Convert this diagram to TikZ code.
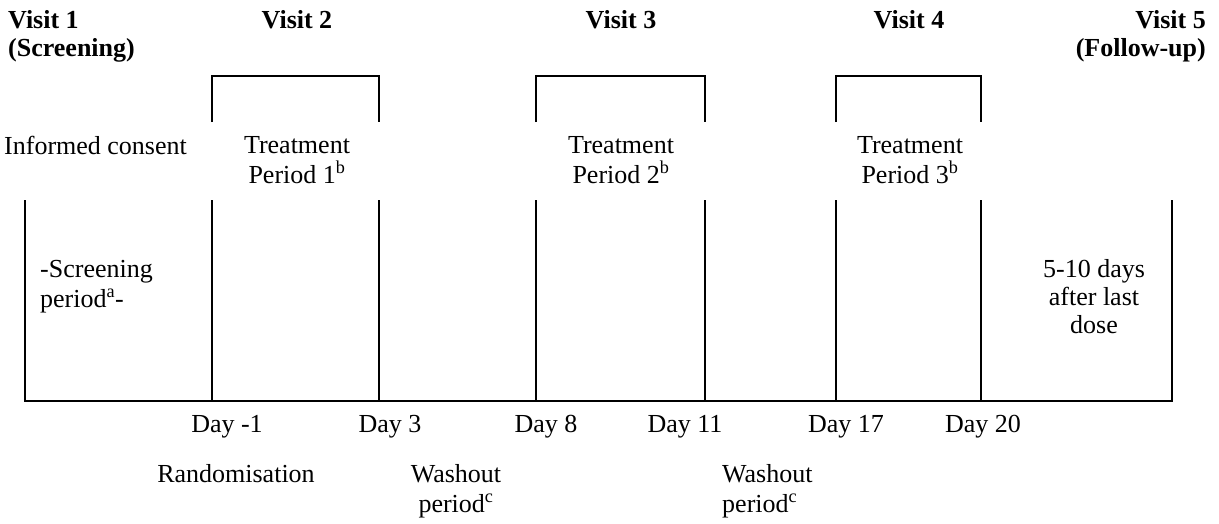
\documentclass[tikz,border=0pt]{standalone}
\usepackage{fontspec}
\setmainfont{Liberation Serif}
\begin{document}
\begin{tikzpicture}[x=1pt,y=-1pt,
  rule/.style={line width=2.6pt},
  lbl/.style={inner sep=0pt, font=\fontsize{26}{29.5}\selectfont},
  tight/.style={inner sep=0pt, font=\fontsize{26}{28}\selectfont},
  hdr/.style={inner sep=0pt, font=\fontsize{26}{28}\selectfont\bfseries}]
\useasboundingbox (0,0) rectangle (1219,523);
% timeline frame
\coordinate (tl) at (25,200);
\coordinate (bl) at (25,401);
\coordinate (br) at (1172,401);
\coordinate (tr) at (1172,200);
\draw[rule] (tl) -- (bl) -- (br) -- (tr);
\foreach \x in {212,379,536,705,836,981}
  \draw[rule] (\x,200) -- (\x,401);
% treatment brackets
\foreach \a/\b in {212/379,536/705,836/981}
  \draw[rule] (\a,122) -- (\a,76) -- (\b,76) -- (\b,122);
% visit headers (base anchor = last line baseline)
\node[hdr, anchor=base west, align=left] (v1) at (8,56) {Visit 1\\(Screening)};
\node[hdr, anchor=base] (v2) at (297,28) {Visit 2};
\node[hdr, anchor=base] (v3) at (621,28) {Visit 3};
\node[hdr, anchor=base] (v4) at (909,28) {Visit 4};
\node[hdr, anchor=base east, align=right] (v5) at (1206,56) {Visit 5\\(Follow-up)};
% upper labels
\node[lbl, anchor=base west] (ic) at (4,154) {Informed consent};
\node[lbl, anchor=base, align=center] (t1) at (297,183) {Treatment\\Period 1\textsuperscript{b}};
\node[lbl, anchor=base, align=center] (t2) at (621,183) {Treatment\\Period 2\textsuperscript{b}};
\node[lbl, anchor=base, align=center] (t3) at (910,183) {Treatment\\Period 3\textsuperscript{b}};
% inside boxes
\node[lbl, anchor=base west, align=left] (sp) at (40,307) {-Screening\\period\textsuperscript{a}-};
\node[tight, anchor=base, align=center] (fu) at (1094,333) {5-10 days\\after last\\dose};
% day labels
\node[lbl, anchor=base] (d1) at (227,432) {Day -1};
\node[lbl, anchor=base] (d3) at (390,432) {Day 3};
\node[lbl, anchor=base] (d8) at (546,432) {Day 8};
\node[lbl, anchor=base] (d11) at (685,432) {Day 11};
\node[lbl, anchor=base] (d17) at (846,432) {Day 17};
\node[lbl, anchor=base] (d20) at (983,432) {Day 20};
% bottom labels
\node[lbl, anchor=base] (rand) at (236,482) {Randomisation};
\node[lbl, anchor=base, align=center] (w1) at (456,512) {Washout\\period\textsuperscript{c}};
\node[lbl, anchor=base west, align=left] (w2) at (722,512) {Washout\\period\textsuperscript{c}};
\end{tikzpicture}
\end{document}
